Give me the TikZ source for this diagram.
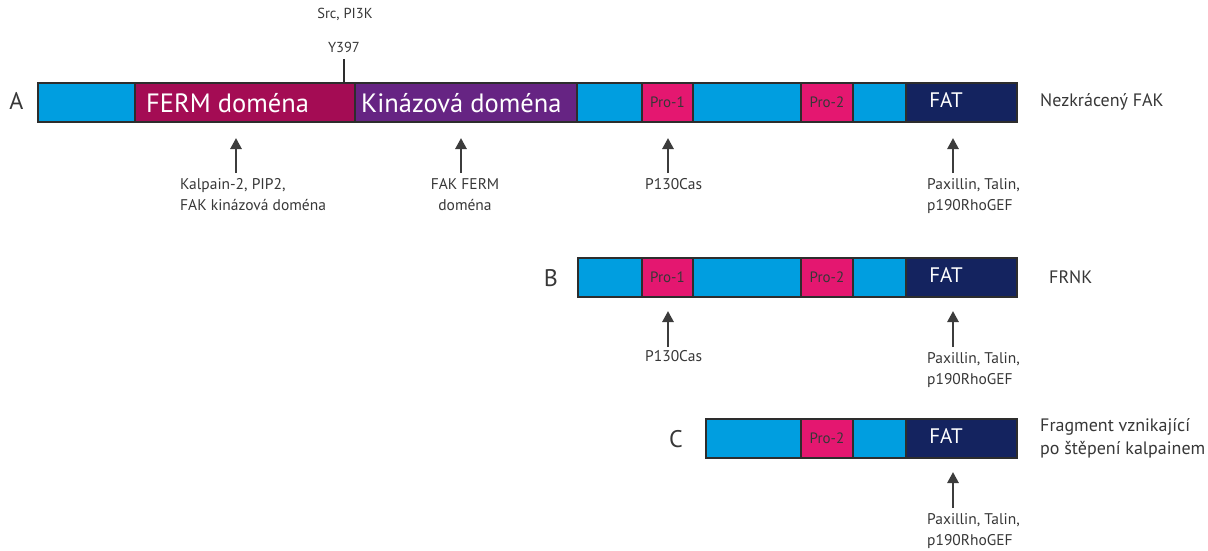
\documentclass[tikz,border=0pt]{standalone}
\usepackage{fontspec}
\setmainfont{PT Sans}
\usetikzlibrary{arrows.meta}
\definecolor{segcyan}{RGB}{0,158,224}
\definecolor{fermred}{RGB}{164,12,84}
\definecolor{kinpurple}{RGB}{102,36,131}
\definecolor{propink}{RGB}{228,23,112}
\definecolor{fatnavy}{RGB}{20,35,95}
\definecolor{segline}{RGB}{45,45,45}
\definecolor{ink}{RGB}{55,55,55}
\definecolor{arrink}{RGB}{60,60,60}
\begin{document}
\begin{tikzpicture}[x=1pt,y=-1pt,
  seg/.style={draw=segline, line width=1.8pt, minimum height=39pt, inner sep=0pt,
              outer sep=0pt, anchor=north west},
  cyanseg/.style={seg, fill=segcyan},
  bigtxt/.style={text=white, font=\fontsize{26.5}{26.5}\selectfont, inner sep=0pt, anchor=west},
  protxt/.style={text=ink, font=\fontsize{15}{15}\selectfont, inner sep=0pt},
  fattxt/.style={text=white, font=\fontsize{21}{21}\selectfont, inner sep=0pt},
  lbl/.style={text=ink, font=\fontsize{15.5}{21}\selectfont, inner sep=0pt, anchor=north west, align=left},
  rowlbl/.style={text=ink, font=\fontsize{24}{24}\selectfont, inner sep=0pt},
  protname/.style={text=ink, font=\fontsize{18}{23}\selectfont, inner sep=0pt, anchor=west, align=left},
  toplbl/.style={text=ink, font=\fontsize{14.5}{14.5}\selectfont, inner sep=0pt},
  arr/.style={draw=arrink, line width=2.7pt, -{Triangle[length=11pt,width=11pt]}}
]
\useasboundingbox (0,0) rectangle (1208,550);

% ---------- A: full-length FAK ----------
\node[cyanseg, minimum width=97pt] (a1) at (38,83) {};
\node[seg, fill=fermred, minimum width=220pt] (aferm) at (135,83) {};
\node[seg, fill=kinpurple, minimum width=222pt] (akin) at (355,83) {};
\node[cyanseg, minimum width=65pt] (a2) at (577,83) {};
\node[seg, fill=propink, minimum width=51pt] (apro1) at (642,83) {};
\node[cyanseg, minimum width=108pt] (a3) at (693,83) {};
\node[seg, fill=propink, minimum width=52pt] (apro2) at (801,83) {};
\node[cyanseg, minimum width=53pt] (a4) at (853,83) {};
\node[seg, fill=fatnavy, minimum width=111pt] (afat) at (906,83) {};

\node[bigtxt] (afermtxt) at (146,103) {FERM doména};
\node[bigtxt] (akintxt) at (361,103) {Kinázová doména};
\node[protxt] (apro1txt) at (apro1.center) {Pro-1};
\node[protxt] (apro2txt) at (apro2.center) {Pro-2};
\node[fattxt] (afattxt) at (946,100) {FAT};

\node[rowlbl] (rowA) at (16.5,101) {A};
\node[protname] (nameA) at (1040,102) {Nezkrácený FAK};

% phosphosite above the FERM/kinase junction
\coordinate (ytick) at (344,59);
\draw[segline, line width=1.8pt] (ytick) -- (ytick |- aferm.north);
\node[toplbl] (y397) at (344,47) {Y397};
\node[toplbl] (srcpi) at (345,14) {Src, PI3K};

% binding partners of A
\coordinate (ha1) at (236,138); \coordinate (ta1) at (236,173);
\draw[arr] (ta1) -- (ha1);
\node[lbl] (la1) at (180,178) {Kalpain-2, PIP2,\\FAK kinázová doména};

\coordinate (ha2) at (461,138); \coordinate (ta2) at (461,173);
\draw[arr] (ta2) -- (ha2);
\node[lbl, anchor=north, align=center] (la2) at (465,178) {FAK FERM\\doména};

\coordinate (ha3) at (668,138); \coordinate (ta3) at (668,173);
\draw[arr] (ta3) -- (ha3);
\node[lbl] (la3) at (645,178) {P130Cas};

\coordinate (ha4) at (953,138); \coordinate (ta4) at (953,173);
\draw[arr] (ta4) -- (ha4);
\node[lbl] (la4) at (927,178) {Paxillin, Talin,\\p190RhoGEF};

% ---------- B: FRNK ----------
\node[cyanseg, minimum width=64pt] (b1) at (578,258) {};
\node[seg, fill=propink, minimum width=51pt] (bpro1) at (642,258) {};
\node[cyanseg, minimum width=108pt] (b2) at (693,258) {};
\node[seg, fill=propink, minimum width=52pt] (bpro2) at (801,258) {};
\node[cyanseg, minimum width=53pt] (b3) at (853,258) {};
\node[seg, fill=fatnavy, minimum width=111pt] (bfat) at (906,258) {};

\node[protxt] (bpro1txt) at (bpro1.center) {Pro-1};
\node[protxt] (bpro2txt) at (bpro2.center) {Pro-2};
\node[fattxt] (bfattxt) at (946,275) {FAT};

\node[rowlbl] (rowB) at (551,278) {B};
\node[protname] (nameB) at (1049,277) {FRNK};

\coordinate (hb1) at (668,311); \coordinate (tb1) at (668,347);
\draw[arr] (tb1) -- (hb1);
\node[lbl] (lb1) at (645,350) {P130Cas};

\coordinate (hb2) at (953,311); \coordinate (tb2) at (953,347);
\draw[arr] (tb2) -- (hb2);
\node[lbl] (lb2) at (927,352) {Paxillin, Talin,\\p190RhoGEF};

% ---------- C: calpain cleavage fragment ----------
\node[cyanseg, minimum width=95pt] (c1) at (706,419) {};
\node[seg, fill=propink, minimum width=52pt] (cpro2) at (801,419) {};
\node[cyanseg, minimum width=53pt] (c2) at (853,419) {};
\node[seg, fill=fatnavy, minimum width=111pt] (cfat) at (906,419) {};

\node[protxt] (cpro2txt) at (cpro2.center) {Pro-2};
\node[fattxt] (cfattxt) at (946,436) {FAT};

\node[rowlbl] (rowC) at (676,439) {C};
\node[protname] (nameC) at (1040,438) {Fragment vznikající\\po štěpení kalpainem};

\coordinate (hc1) at (953,472); \coordinate (tc1) at (953,508);
\draw[arr] (tc1) -- (hc1);
\node[lbl] (lc1) at (927,513) {Paxillin, Talin,\\p190RhoGEF};
\end{tikzpicture}
\end{document}
